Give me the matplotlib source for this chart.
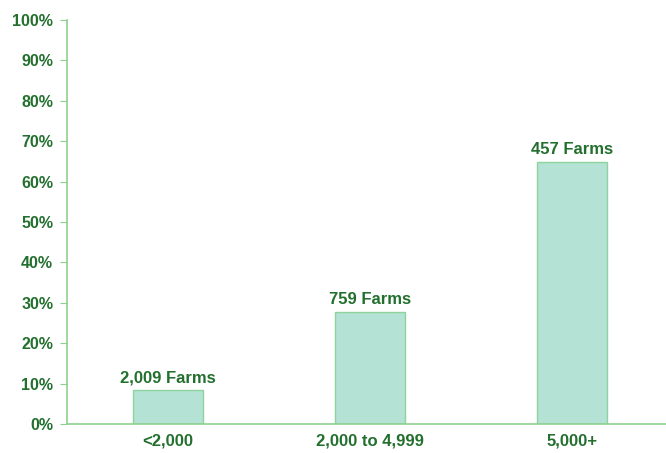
import matplotlib
matplotlib.use("Agg")
import matplotlib.pyplot as plt
import numpy as np

categories = ["<2,000", "2,000 to 4,999", "5,000+"]
shares = [8.4, 27.7, 64.9]
farm_labels = ["2,009 Farms", "759 Farms", "457 Farms"]
yticks = list(range(0, 101, 10))

text_color = "#23702e"
axis_color = "#8fcf8f"
bar_face = "#b4e2d4"
bar_edge = "#8fd39c"

plt.rcParams["font.family"] = ["Liberation Sans", "DejaVu Sans"]

fig = plt.figure(figsize=(6.66, 4.53), dpi=100)
ax = fig.add_axes([67 / 666, 1 - 424 / 453, (673 - 67) / 666, (424 - 20) / 453])

x = np.arange(len(categories))
bars = ax.bar(x, shares, width=0.35, color=bar_face, edgecolor=bar_edge, linewidth=1.0, zorder=2)

for xi, v, lab in zip(x, shares, farm_labels):
    ax.annotate(lab, (xi, v), xytext=(0, 3.5), textcoords="offset points",
                ha="center", va="bottom", fontsize=12, fontweight="bold", color=text_color)

ax.set_xlim(-0.5, 2.5)
ax.set_ylim(0, 100)
ax.set_yticks(yticks)
ax.set_yticklabels([f"{t}%" for t in yticks])
ax.set_xticks(x)
ax.set_xticklabels(categories)

for s in ["top", "right"]:
    ax.spines[s].set_visible(False)
for s in ["left", "bottom"]:
    ax.spines[s].set_color(axis_color)
    ax.spines[s].set_linewidth(1.2)

ax.tick_params(axis="y", direction="out", length=5, color=axis_color, labelsize=11.5,
               labelcolor=text_color, pad=5)
ax.tick_params(axis="x", length=0, labelsize=12, labelcolor=text_color, pad=7)
for lbl in ax.get_xticklabels() + ax.get_yticklabels():
    lbl.set_fontweight("bold")

fig.savefig("out.png", dpi=100)
